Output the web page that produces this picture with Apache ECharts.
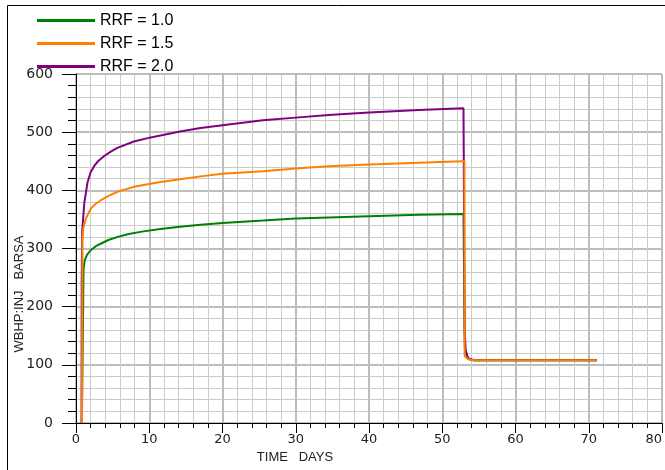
<!DOCTYPE html>
<html>
<head>
<meta charset="utf-8">
<script src="https://cdn.jsdelivr.net/npm/echarts@6/dist/echarts.min.js"></script>
<style>
  html, body { margin: 0; padding: 0; background: #fff; }
  #chart { width: 665px; height: 470px; }
</style>
</head>
<body>
<div id="chart"></div>
<script>
// Injector bottom-hole pressure (WBHP:INJ, BARSA) against time for three resistance factors
const seriesNames = ['RRF = 1.0', 'RRF = 1.5', 'RRF = 2.0'];
const seriesColors = ['#008000', '#ff8000', '#800080'];

const rrf10Days = [0.8, 1.03, 1.2, 1.5, 2.0, 2.7, 3.5, 4.5, 5.7, 7.2, 9, 11.5, 14.2, 17, 20, 25.5, 30, 34.5, 40, 46.8, 52.9, 53.03, 53.06, 53.1, 53.5, 54.3, 71.1];
const rrf10Bar  = [0, 265, 280, 289, 297, 304, 309, 315, 320, 325, 329, 333.5, 337.5, 341, 344, 348, 351.5, 353.5, 355.5, 358, 359.5, 359.5, 142, 125, 110, 108, 108];

const rrf15Days = [0.82, 0.88, 1.0, 1.36, 2.04, 2.7, 3.4, 4.5, 5.65, 7.9, 11.1, 14.2, 17, 20, 25.5, 30, 34.5, 40, 46.8, 52.7, 53.03, 53.06, 53.5, 54.3, 71.1];
const rrf15Bar  = [0, 317, 335, 352, 369, 377, 383, 391, 397.5, 406, 413.5, 419, 424, 428.5, 433, 437.5, 441.5, 444.5, 447.5, 450, 450, 115, 110, 108, 108];

const rrf20Days = [0.76, 0.78, 0.85, 1.13, 1.58, 2.0, 2.49, 3.0, 3.85, 4.8, 5.65, 7.9, 10.2, 14.2, 17, 20, 25.5, 30, 34.5, 40, 46.8, 52.9, 53.03, 53.06, 53.2, 53.5, 54.3, 71.1];
const rrf20Bar  = [0, 245, 330, 378, 414, 431, 442, 450, 459, 467, 473, 484, 491, 501, 507, 512, 520.5, 525, 529.5, 534, 538, 541, 541, 158, 125, 112, 108, 108];

const xTicks = { min: 0, max: 80, step: 10 };
const yTicks = { min: 0, max: 600, step: 100 };

const pairs = (xs, ys) => xs.map((x, i) => [x, ys[i]]);

function lineSeries(idx, xs, ys) {
  return {
    name: seriesNames[idx],
    type: 'line',
    data: pairs(xs, ys),
    showSymbol: false,
    symbol: 'none',
    color: seriesColors[idx],
    lineStyle: { width: 2, color: seriesColors[idx] },
    clip: true
  };
}

const chart = echarts.init(document.getElementById('chart'), null, { renderer: 'canvas' });

const tickFont = { fontFamily: 'DejaVu Sans', color: '#222' };

chart.setOption({
  animation: false,
  backgroundColor: '#fff',
  grid: { left: 76, top: 74, right: 0, bottom: 47, containLabel: false },
  legend: {
    data: seriesNames,
    orient: 'vertical',
    left: 37,
    top: 12.5,
    padding: 0,
    itemGap: 7,
    itemWidth: 58,
    itemHeight: 3,
    icon: 'rect',
    textStyle: { fontFamily: 'Liberation Sans', fontSize: 16, lineHeight: 16, color: '#000', padding: [0, 0, 0, 0] },
    selectedMode: false
  },
  xAxis: {
    type: 'value',
    min: xTicks.min, max: xTicks.max, interval: xTicks.step,
    axisLine: { show: true, onZero: false, lineStyle: { color: '#000', width: 1 } },
    axisTick: { show: true, length: 10, lineStyle: { color: '#000', width: 1 } },
    minorTick: { show: true, splitNumber: 5, length: 5, lineStyle: { color: '#000', width: 1 } },
    axisLabel: Object.assign({ fontSize: 13, margin: 10, showMaxLabel: true, alignMaxLabel: 'right' }, tickFont),
    splitLine: { show: true, lineStyle: { color: '#bdbdbd', width: 2 } },
    minorSplitLine: { show: true, lineStyle: { color: '#cbcbcb', width: 1 } }
  },
  yAxis: {
    type: 'value',
    min: yTicks.min, max: yTicks.max, interval: yTicks.step,
    axisLine: { show: true, onZero: false, lineStyle: { color: '#000', width: 1 } },
    axisTick: { show: true, length: 14, lineStyle: { color: '#000', width: 1 } },
    minorTick: { show: true, splitNumber: 5, length: 8, lineStyle: { color: '#000', width: 1 } },
    axisLabel: Object.assign({ fontSize: 14, margin: 23 }, tickFont),
    splitLine: { show: true, lineStyle: { color: '#bdbdbd', width: 2 } },
    minorSplitLine: { show: true, lineStyle: { color: '#cbcbcb', width: 1 } }
  },
  graphic: [
    {
      type: 'rect',
      silent: true,
      shape: { x: 7.5, y: 5.5, width: 700, height: 500 },
      style: { fill: 'none', stroke: '#000', lineWidth: 1 },
      z: 100
    },
    {
      type: 'text',
      silent: true,
      x: 295, y: 457,
      style: { text: 'TIME   DAYS', fontFamily: 'Liberation Sans', fontSize: 13, fill: '#222', align: 'center', verticalAlign: 'middle' }
    },
    {
      type: 'text',
      silent: true,
      x: 19, y: 294,
      rotation: Math.PI / 2,
      style: { text: 'WBHP:INJ   BARSA', fontFamily: 'Liberation Sans', fontSize: 13, fill: '#222', align: 'center', verticalAlign: 'middle' }
    }
  ],
  series: [
    lineSeries(0, rrf10Days, rrf10Bar),
    lineSeries(2, rrf20Days, rrf20Bar),
    lineSeries(1, rrf15Days, rrf15Bar)
  ]
});
</script>
</body>
</html>
